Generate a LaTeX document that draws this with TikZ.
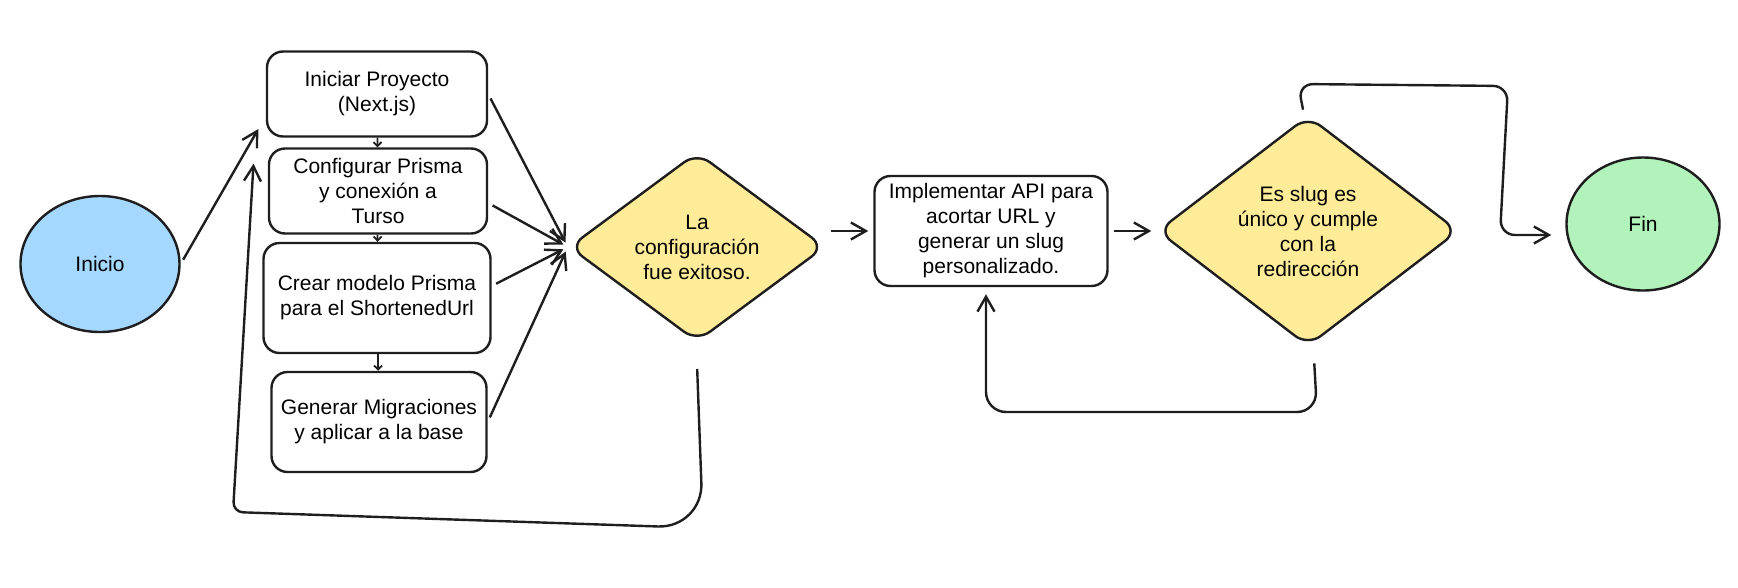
\documentclass[tikz,border=0pt]{standalone}
\usepackage{fontspec}
\setmainfont{Liberation Sans}
\definecolor{inkblack}{HTML}{1E1E1E}
\definecolor{startblue}{HTML}{A5D8FF}
\definecolor{endgreen}{HTML}{B2F2BB}
\definecolor{decyellow}{HTML}{FFEC99}
\usetikzlibrary{shapes.geometric, arrows.meta}

\begin{document}
\begin{tikzpicture}[x=1pt, y=-1pt,
  stepbox/.style={draw=inkblack, line width=2.4pt, rounded corners=16pt, fill=white, align=center, inner sep=4pt, font=\fontsize{21pt}{25pt}\selectfont},
  terminal/.style={ellipse, draw=inkblack, line width=2.4pt, font=\fontsize{21pt}{25pt}\selectfont},
  decision/.style={diamond, draw=inkblack, line width=2.4pt, rounded corners=16pt, fill=decyellow, align=center, inner sep=0pt, font=\fontsize{21pt}{25pt}\selectfont},
  flow/.style={draw=inkblack, line width=2.4pt, -{Straight Barb[length=15pt, width=17pt]}, shorten <=5pt, shorten >=5pt},
  smallflow/.style={draw=inkblack, line width=1.8pt, -{Straight Barb[length=4pt, width=8pt]}}]
  \useasboundingbox (0,0) rectangle (1738,587);

  % Start
  \node[terminal, fill=startblue, minimum width=159pt, minimum height=136pt] (ini) at (100,264) {Inicio};

  % Setup steps
  \node[stepbox, minimum width=220pt, minimum height=85pt] (proy) at (377,94) {Iniciar Proyecto\\(Next.js)};
  \node[stepbox, minimum width=218pt, minimum height=85pt] (prisma) at (378,191) {Configurar Prisma\\y conexión a\\Turso};
  \node[stepbox, minimum width=227pt, minimum height=110pt] (modelo) at (377,298) {Crear modelo Prisma\\para el ShortenedUrl};
  \node[stepbox, minimum width=215pt, minimum height=100pt] (migra) at (379,422) {Generar Migraciones\\y aplicar a la base};

  \draw[smallflow] (proy) -- (prisma);
  \draw[smallflow] (prisma) -- (modelo);
  \draw[smallflow] (modelo) -- (migra);
  \draw[flow] (ini.east) -- ([xshift=-5pt, yshift=13pt]proy.south west);

  % First check
  \node[decision, minimum width=256pt, minimum height=160pt] (conf) at (697,247) {La\\configuración\\fue exitoso.};

  \draw[flow] (proy.east) -- (conf.west);
  \draw[flow] ([yshift=-12pt]prisma.east) -- (conf.west);
  \draw[flow] ([yshift=12pt]modelo.east) -- (conf.west);
  \draw[flow] (migra.east) -- (conf.west);
  \draw[flow] ([yshift=-21pt]conf.south) [rounded corners=45pt] -- (703,528) [rounded corners=10pt] -- (233,512) -- ([xshift=-12pt, yshift=-21pt]proy.south west);

  % API and second check
  \node[stepbox, minimum width=233pt, minimum height=110pt] (api) at (991,231) {Implementar API para\\acortar URL y\\generar un slug\\personalizado.};
  \node[decision, minimum width=301pt, minimum height=207pt] (slug) at (1308,231) {Es slug es\\único y cumple\\con la\\redirección};

  \draw[flow] (conf.east |- api.west) -- (api.west);
  \draw[flow] (api.east) -- (slug.west);
  \draw[flow, rounded corners=20pt] ([xshift=6pt, yshift=-11pt]slug.south) -- (1317,412) -- (986,412) -- ([xshift=-5pt, yshift=-2pt]api.south);

  % End
  \node[terminal, fill=endgreen, minimum width=153pt, minimum height=133pt] (fin) at (1643,224) {Fin};

  \draw[flow, rounded corners=15pt] ([xshift=-4pt]slug.north) -- (1298,84) -- (1508,86) -- (1500,235) -- ([xshift=-9pt, yshift=-11pt]fin.west);
\end{tikzpicture}
\end{document}
